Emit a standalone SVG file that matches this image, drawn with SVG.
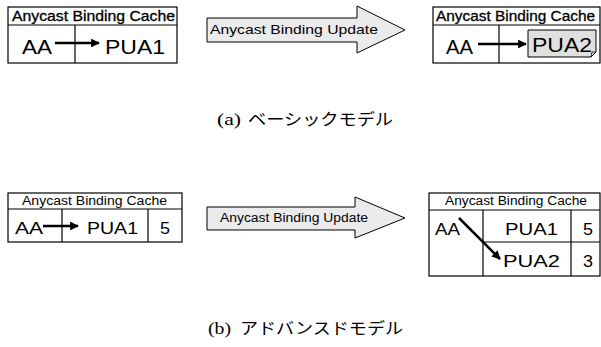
<svg xmlns="http://www.w3.org/2000/svg" width="601" height="347" viewBox="0 0 601 347">
<style>
.box{fill:#fff;stroke:#000;stroke-width:1.2}
.ln{stroke:#000;stroke-width:1.2;fill:none}
.big{fill:#ebebeb;stroke:#000;stroke-width:1}
.t{font-family:"Liberation Sans",Arial,sans-serif;fill:#000}
.ar{stroke:#000;stroke-width:2.5;fill:none}
.cap{font-family:"Liberation Serif",serif;font-size:16px}
.jp{font-family:"Noto Sans CJK JP",sans-serif;font-size:16px}
</style>
<defs>
<marker id="ah" viewBox="0 0 10 10" refX="9" refY="5" markerWidth="3.5" markerHeight="3.5" orient="auto" markerUnits="strokeWidth">
<path d="M0,0 L10,5 L0,10 z" fill="#000"/>
</marker>
</defs>

<g id="cache-a1">
<rect class="box" x="8" y="7" width="169" height="56"/>
<line class="ln" x1="8" y1="25" x2="177" y2="25"/>
<line class="ln" x1="75" y1="25" x2="75" y2="63"/>
<text class="t" x="12" y="21" font-size="14" textLength="163" lengthAdjust="spacingAndGlyphs" stroke="#000" stroke-width="0.3">Anycast Binding Cache</text>
<text class="t" x="22" y="54" font-size="21" textLength="30" lengthAdjust="spacingAndGlyphs">AA</text>
<text class="t" x="105" y="54" font-size="21" textLength="60" lengthAdjust="spacingAndGlyphs">PUA1</text>
</g>

<g id="update-a">
<path class="big" d="M207,18 H357 V6 L405,30 L357,53 V42 H207 Z"/>
<text class="t" x="210" y="34" font-size="13.5" textLength="168" lengthAdjust="spacingAndGlyphs">Anycast Binding Update</text>
</g>

<g id="cache-a2">
<rect class="box" x="433" y="7" width="167" height="56"/>
<line class="ln" x1="433" y1="25" x2="600" y2="25"/>
<line class="ln" x1="499" y1="25" x2="499" y2="63"/>
<text class="t" x="436" y="21" font-size="14" textLength="159" lengthAdjust="spacingAndGlyphs" stroke="#000" stroke-width="0.3">Anycast Binding Cache</text>
<text class="t" x="446" y="54" font-size="21" textLength="27" lengthAdjust="spacingAndGlyphs">AA</text>
<path d="M528,30 H596 V52 L591,57 H528 Z" fill="#e0e0e0" stroke="#000" stroke-width="1"/>
<path d="M591,57 L592,52 H596" fill="none" stroke="#000" stroke-width="0.8"/>
<text class="t" x="532" y="52" font-size="21" textLength="60" lengthAdjust="spacingAndGlyphs">PUA2</text>
</g>

<g id="caption-a">
<text class="cap" x="217" y="125" textLength="24" lengthAdjust="spacingAndGlyphs">(a)</text>
<text class="jp" x="248" y="125" textLength="145" lengthAdjust="spacingAndGlyphs">ベーシックモデル</text>
</g>

<g id="cache-b1">
<rect class="box" x="8" y="193" width="174" height="49"/>
<line class="ln" x1="8" y1="209" x2="182" y2="209"/>
<line class="ln" x1="62" y1="209" x2="62" y2="242"/>
<line class="ln" x1="148" y1="209" x2="148" y2="242"/>
<text class="t" x="22" y="205" font-size="12.5" textLength="145" lengthAdjust="spacingAndGlyphs">Anycast Binding Cache</text>
<text class="t" x="15" y="234" font-size="17" textLength="28" lengthAdjust="spacingAndGlyphs">AA</text>
<text class="t" x="87" y="234" font-size="17" textLength="51" lengthAdjust="spacingAndGlyphs">PUA1</text>
<text class="t" x="160" y="234" font-size="17" textLength="10" lengthAdjust="spacingAndGlyphs">5</text>
</g>

<g id="update-b">
<path class="big" d="M207,207 H355 V197 L405,218 L355,238 V230 H207 Z"/>
<text class="t" x="220" y="222" font-size="12.5" textLength="148" lengthAdjust="spacingAndGlyphs">Anycast Binding Update</text>
</g>

<g id="cache-b2">
<rect class="box" x="429" y="193" width="171" height="83"/>
<line class="ln" x1="429" y1="210" x2="600" y2="210"/>
<line class="ln" x1="483" y1="210" x2="483" y2="276"/>
<line class="ln" x1="571" y1="210" x2="571" y2="276"/>
<line class="ln" x1="483" y1="242" x2="600" y2="242"/>
<text class="t" x="445" y="205" font-size="12.5" textLength="142" lengthAdjust="spacingAndGlyphs">Anycast Binding Cache</text>
<text class="t" x="435" y="235" font-size="17" textLength="25" lengthAdjust="spacingAndGlyphs">AA</text>
<text class="t" x="505" y="235" font-size="17" textLength="53" lengthAdjust="spacingAndGlyphs">PUA1</text>
<text class="t" x="583" y="235" font-size="17" textLength="10" lengthAdjust="spacingAndGlyphs">5</text>
<text class="t" x="503" y="267" font-size="17" textLength="57" lengthAdjust="spacingAndGlyphs">PUA2</text>
<text class="t" x="583" y="267" font-size="17" textLength="10" lengthAdjust="spacingAndGlyphs">3</text>
</g>

<g id="caption-b">
<text class="cap" x="208" y="334" textLength="23" lengthAdjust="spacingAndGlyphs">(b)</text>
<text class="jp" x="240" y="334" textLength="163" lengthAdjust="spacingAndGlyphs">アドバンスドモデル</text>
</g>

<g id="connectors">
<line class="ar" x1="55" y1="43" x2="99" y2="43" marker-end="url(#ah)"/>
<line class="ar" x1="478" y1="44" x2="526" y2="44" marker-end="url(#ah)"/>
<line class="ar" x1="43" y1="226" x2="78" y2="226" stroke-width="2" marker-end="url(#ah)"/>
<line class="ar" x1="459" y1="218" x2="500" y2="259" stroke-width="2" marker-end="url(#ah)"/>
</g>
</svg>
